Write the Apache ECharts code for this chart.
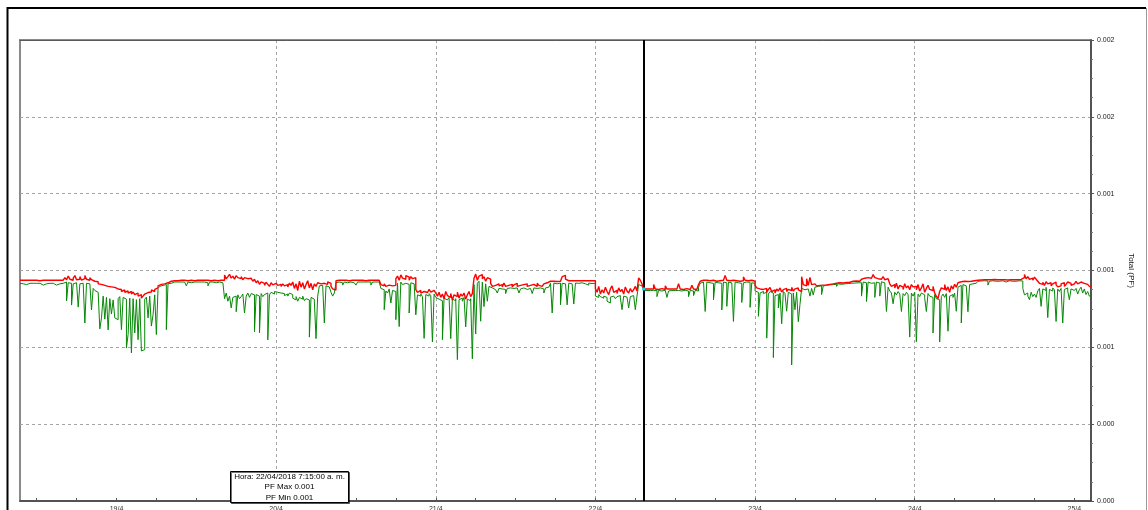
<!DOCTYPE html>
<html>
<head>
<meta charset="utf-8">
<script src="https://cdn.jsdelivr.net/npm/echarts@6/dist/echarts.min.js"></script>
<style>
  html, body { margin: 0; padding: 0; background: #ffffff; overflow: hidden; }
  #chart { width: 1148px; height: 510px; }
</style>
</head>
<body>
<div id="chart"></div>
<script>
// Power factor readings every 15 minutes, written in millionths (x 1e-6)
const startTime = Date.UTC(2018, 3, 18, 9, 30);
const endTime = Date.UTC(2018, 3, 25, 2, 30);
const stepMs = 15 * 60 * 1000;
const cursorTime = Date.UTC(2018, 3, 22, 7, 15);
const cursorText = 'Hora: 22/04/2018 7:15:00 a. m.';

const yTickLabels = ['0.000', '0.000', '0.001', '0.001', '0.001', '0.002', '0.002'];

// PF Max
const pfMax18 = [862,862,860,862,862,862,860,862,862,862,862,860,862,862,862,862,860,862,862,862,862,862,860,862,862,862,
  866,872,864,878,866,862,870,880,864,866,876,862,868,880,866,862,872,864,
  858,852,856,848,846,850,842,846,838,842,836,840,834,838];
const pfMax19 = [828,822,826,818,824,815,820,812,818,808,816,806,812,800,806,792,800,808,814,820,816,824,818,826,
  832,840,846,850,848,855,852,856,858,860,
  860,862,860,862,862,860,862,862,860,862,862,862,860,862,862,860,862,862,862,860,862,862,860,862,862,862,860,862,862,860,862,
  882,868,876,885,870,878,866,880,872,868,876,864,872,868,862,870,864,858,866,852,860,846,856,850,842,854,846,838,852,844,850];
const pfMax20 = [850,842,846,838,848,840,845,836,850,842,
  855,830,848,822,858,835,852,828,845,860,832,850,825,848,838,852,
  848,855,850,852,846,856,850,838,828,824,
  860,862,860,862,860,862,862,860,862,862,860,862,862,862,860,862,862,860,862,862,860,862,862,862,860,862,860,
  845,840,848,838,843,850,840,846,842,
  868,878,862,883,870,866,880,874,862,876,868,872,
  825,815,822,812,818,825,814,820,826,816,822,818];
const pfMax21 = [812,800,815,795,808,790,818,802,795,810,785,805,798,815,792,808,800,812,788,805,818,798,810,
  870,886,862,878,884,868,876,858,872,866,850,
  838,842,836,848,840,845,836,851,838,842,840,846,836,844,850,838,842,836,845,840,848,838,842,836,846,840,838,850,842,838,845,848,852,855,858,
  860,858,860,857,860,858,862,876,881,866,860,858,860,857,860,858,860,856,860,858,860,857,860,858,860,862,860];
const pfMax22 = [830,815,838,808,825,812,835,818,806,828,840,815,822,810,832,818,826,808,836,820,812,830,816,825,838,820,
  871,862,848,828,
  828,826,828,829,828,845,828,826,828,829,828,826,840,828,828,826,828,829,828,826,848,828,826,828,829,828,826,828,842,828,826,830,
  845,858,862,860,862,858,860,864,862,860,858,862,860,864,862,866,881,862,860,858,862,864,860,862,858,862,860,875,862,860,858,862,860,858];
const pfMax23 = [842,832,828,830,826,
  822,830,815,826,834,818,824,812,828,820,832,816,825,830,818,826,822,834,820,828,832,824,818,
  876,845,840,868,842,873,845,848,846,
  840,842,845,843,846,844,848,846,850,848,852,850,849,852,854,851,855,853,856,854,857,858,856,859,860,858,862,
  866,870,864,872,868,870,866,884,872,868,874,866,870,876,864,868,
  862,848,838,845,832,850,828,842,835,826,848,832,840,825,845,836];
const pfMax24 = [838,825,845,820,832,848,815,830,842,826,822,838,812,800,790,818,832,826,845,822,836,815,840,828,846,835,
  852,856,855,858,854,857,855,858,856,860,858,862,
  864,863,864,864,865,864,863,864,864,865,864,864,863,864,865,864,864,863,864,864,865,864,863,864,864,865,864,
  872,884,868,876,865,870,862,874,866,858,
  850,846,854,842,856,848,852,840,848,855,844,836,840,848,852,838,846,855,850,842,848];
const pfMax25 = [852,858,848,855,860,850,856,846,852,838,835];

// PF Min
const pfMin18 = [850,848,850,845,850,850,843,850,848,850,846,850,850,843,850,848,850,850,845,850,850,843,850,848,850,850,
  852,855,781,852,850,765,848,852,850,757,848,850,852,695,850,848,852,746,
  830,822,815,808,672,715,800,710,795,668,790,730,785,715];
const pfMin19 = [708,790,798,669,795,788,597,650,792,578,790,656,786,630,790,586,591,788,796,715,800,683,727,805,
  650,830,838,842,840,845,669,848,850,852,
  855,852,855,855,855,852,855,855,840,855,852,855,855,855,855,852,855,855,855,855,852,840,855,855,855,852,855,855,855,852,855,
  790,812,780,800,754,795,800,739,805,790,798,808,734,800,812,795,810,805,661,806,800,657,810,798,806,812,629,805,815,808,818];
const pfMin20 = [815,808,812,805,810,802,808,800,812,806,
  792,785,798,780,795,788,800,782,790,785,640,795,788,780,634,800,
  840,842,838,695,840,836,842,815,800,812,
  852,855,855,852,843,855,852,855,855,855,852,855,843,855,855,852,855,855,855,852,855,843,855,855,852,855,855,
  830,825,747,820,812,828,773,822,818,
  708,850,681,855,845,850,852,846,734,852,848,855,
  727,805,800,808,798,635,806,800,810,802,621,808];
const pfMin21 = [795,788,790,782,630,792,785,780,795,634,788,782,790,552,786,792,780,795,680,788,782,790,555,
  845,652,850,858,702,855,759,848,780,838,832,
  830,825,832,812,830,828,832,826,810,830,832,828,830,825,832,830,812,828,832,830,826,832,830,828,810,832,830,826,832,830,828,812,832,835,840,
  850,734,851,848,852,851,766,850,848,852,766,851,848,852,769,851,850,843,852,851,848,850,843,851,849,852,850];
const pfMin22 = [800,795,806,798,792,800,795,780,773,796,800,795,790,798,802,793,747,800,796,790,754,798,802,795,747,800,
  845,840,835,822,
  822,820,822,823,822,820,822,798,822,820,822,823,822,795,820,822,823,822,820,822,822,820,822,823,822,820,798,822,820,802,822,820,
  835,850,855,852,740,855,852,855,850,786,854,852,855,850,746,855,852,760,855,852,850,701,855,852,854,850,775,852,855,850,854,756,852,850];
const pfMin23 = [820,815,721,812,818,
  810,815,636,808,818,812,560,802,806,754,812,692,818,810,741,815,808,531,812,747,815,700,767,
  830,825,832,828,835,800,830,804,835,
  838,836,840,806,840,842,840,844,842,845,843,846,838,848,846,849,848,850,849,851,850,852,851,853,852,854,852,
  800,855,852,779,855,850,856,852,795,855,851,800,856,852,854,740,
  835,820,812,770,815,805,818,808,740,810,802,815,806,640,812,800];
const pfMin24 = [815,622,808,798,812,805,792,740,810,800,795,656,806,790,786,621,798,808,795,810,663,800,806,795,812,741,
  835,842,695,845,840,843,739,845,848,846,850,852,
  858,859,858,860,858,859,843,858,860,859,858,860,858,859,860,858,855,858,860,859,858,860,858,859,860,858,859,
  830,805,812,800,786,815,798,808,795,820,
  830,760,828,822,834,716,826,820,832,824,701,828,818,830,695,826,832,820,786,828,822];
const pfMin25 = [815,830,808,825,835,812,828,806,818,800,798];

const MICRO = 1e-6;
const pfMaxAll = [].concat(pfMax18, pfMax19, pfMax20, pfMax21, pfMax22, pfMax23, pfMax24, pfMax25);
const pfMinAll = [].concat(pfMin18, pfMin19, pfMin20, pfMin21, pfMin22, pfMin23, pfMin24, pfMin25);

const toSeries = arr => arr.map((v, i) => [startTime + i * stepMs, v * MICRO]);
const maxData = toSeries(pfMaxAll);
const minData = toSeries(pfMinAll);

const cursorIndex = Math.round((cursorTime - startTime) / stepMs);
const cursorMax = pfMaxAll[cursorIndex] * MICRO;
const cursorMin = pfMinAll[cursorIndex] * MICRO;

// Time axis marks: a labelled tick each midnight, minor ticks every 6 hours
const HOUR = 3600 * 1000;
const dayTicks = [];
for (let t = Date.UTC(2018, 3, 19); t <= endTime; t += 24 * HOUR) dayTicks.push(t);
const sixHourTicks = [];
for (let t = Date.UTC(2018, 3, 18, 12); t <= endTime; t += 6 * HOUR) sixHourTicks.push(t);

const FONT = 'Liberation Sans, Arial, sans-serif';
const Y_STEP = 0.0003;
const gridDash = { color: '#a4a4a4', width: 1, type: [3, 3] };
const boxFont = '8px ' + FONT;

const chart = echarts.init(document.getElementById('chart'), null, { renderer: 'canvas' });

chart.setOption({
  animation: false,
  backgroundColor: '#ffffff',
  textStyle: { fontFamily: FONT },
  grid: {
    left: 20, right: 57, top: 40, bottom: 9,
    show: true, borderColor: '#8a8a8a', borderWidth: 2,
    outerBoundsMode: 'none'
  },
  xAxis: [
    {
      type: 'value', position: 'bottom',
      min: startTime, max: endTime,
      axisLine: { show: true, lineStyle: { color: '#404040', width: 1.5 } },
      axisTick: { show: true, inside: true, length: 3, customValues: sixHourTicks, lineStyle: { color: '#555' } },
      axisLabel: {
        show: true, margin: 5, fontSize: 7, color: '#333', fontFamily: FONT,
        customValues: dayTicks,
        formatter: v => {
          const d = new Date(v);
          return d.getUTCDate() + '/' + (d.getUTCMonth() + 1);
        }
      },
      splitLine: { show: false }
    },
    {
      type: 'value', position: 'top',
      min: startTime, max: endTime,
      axisLine: { show: true, lineStyle: { color: '#5a5a5a', width: 1 } },
      axisTick: { show: false, customValues: dayTicks },
      axisLabel: { show: false, customValues: dayTicks },
      splitLine: { show: true, showMinLine: false, showMaxLine: false, lineStyle: gridDash }
    }
  ],
  yAxis: {
    type: 'value', position: 'right',
    min: 0, max: 0.0018, interval: Y_STEP,
    name: 'Total (PF)', nameLocation: 'middle', nameRotate: -90, nameGap: 36,
    nameTextStyle: { fontSize: 8, color: '#111', fontFamily: FONT },
    axisLine: { show: true, lineStyle: { color: '#404040', width: 1.5 } },
    axisTick: { show: true, inside: false, length: 3, lineStyle: { color: '#555' } },
    minorTick: { show: true, splitNumber: 4, length: 2, lineStyle: { color: '#777' } },
    axisLabel: {
      margin: 6, fontSize: 7, color: '#222', fontFamily: FONT,
      formatter: v => yTickLabels[Math.round(v / Y_STEP)] || ''
    },
    splitLine: { show: true, showMinLine: false, showMaxLine: false, lineStyle: gridDash }
  },
  series: [
    {
      name: 'PF Min', type: 'line', data: minData, step: 'end',
      xAxisIndex: 0, yAxisIndex: 0,
      showSymbol: false, symbol: 'none', silent: true, z: 2,
      lineStyle: { color: '#068806', width: 1 },
      itemStyle: { color: '#068806' }
    },
    {
      name: 'PF Max', type: 'line', data: maxData, step: 'end',
      xAxisIndex: 0, yAxisIndex: 0,
      showSymbol: false, symbol: 'none', silent: true, z: 3,
      lineStyle: { color: '#ff0000', width: 1.4 },
      itemStyle: { color: '#ff0000' },
      markLine: {
        silent: true, symbol: ['none', 'none'], label: { show: false },
        lineStyle: { color: '#000000', width: 2, type: 'solid' },
        data: [{ xAxis: cursorTime }]
      },
      markPoint: {
        silent: true, label: { show: false },
        data: [{ coord: [cursorTime, cursorMax], symbol: 'rect', symbolSize: [3, 3],
                 itemStyle: { color: '#19d3e6' } }]
      }
    }
  ],
  graphic: [
    {
      type: 'polyline', silent: true, z: 100,
      shape: { points: [[7.5, 512], [7.5, 8], [1146, 8]] },
      style: { stroke: '#000000', lineWidth: 2, fill: null }
    },
    {
      type: 'line', silent: true, z: 100,
      shape: { x1: 1146.5, y1: 8, x2: 1146.5, y2: 512 },
      style: { stroke: '#9a9a9a', lineWidth: 1 }
    },
    {
      type: 'group', left: 230, top: 471, z: 100, silent: true,
      children: [
        {
          type: 'rect', z: 100, shape: { x: 0, y: 0, width: 118, height: 31 },
          style: { fill: '#ffffff', stroke: '#000000', lineWidth: 1,
                   shadowColor: 'rgba(0,0,0,0.55)', shadowOffsetX: 1, shadowOffsetY: 1, shadowBlur: 0 }
        },
        {
          type: 'text', z: 101, x: 59, y: 5,
          style: { text: cursorText, fill: '#000', font: boxFont, textAlign: 'center', textVerticalAlign: 'middle' }
        },
        {
          type: 'text', z: 101, x: 59, y: 15.5,
          style: { text: 'PF Max ' + cursorMax.toFixed(3), fill: '#000', font: boxFont, textAlign: 'center', textVerticalAlign: 'middle' }
        },
        {
          type: 'text', z: 101, x: 59, y: 26,
          style: { text: 'PF Min ' + cursorMin.toFixed(3), fill: '#000', font: boxFont, textAlign: 'center', textVerticalAlign: 'middle' }
        }
      ]
    }
  ]
});
</script>
</body>
</html>
